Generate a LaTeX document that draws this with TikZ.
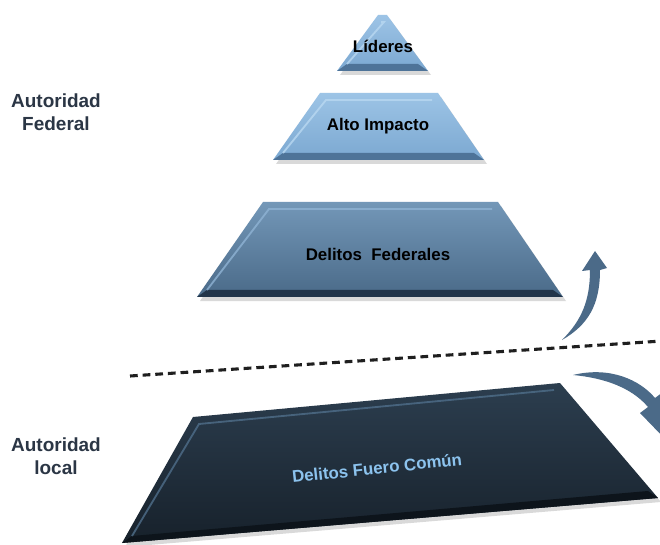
\documentclass[tikz,border=0pt]{standalone}
\usepackage{fontspec}
\setmainfont{Liberation Sans}
\usepackage{xcolor}
\usetikzlibrary{calc}
\definecolor{labelgray}{HTML}{2B3645}
\definecolor{arrowblue}{HTML}{4B6A88}
\definecolor{comuntext}{HTML}{8CC3EE}
\definecolor{litetop}{HTML}{9DC4E6}
\definecolor{litebot}{HTML}{7BA8D1}
\definecolor{liteedge}{HTML}{B9D8F1}
\definecolor{litedark}{HTML}{4E7398}
\definecolor{fedtop}{HTML}{7397B8}
\definecolor{fedbot}{HTML}{4A6A88}
\definecolor{fededge}{HTML}{8FB3D4}
\definecolor{feddark}{HTML}{22354A}
\definecolor{comtop}{HTML}{2C3E4F}
\definecolor{combot}{HTML}{17212B}
\definecolor{comedge}{HTML}{4F6E8A}
\definecolor{comdark}{HTML}{0D141B}
\tikzstyle{label} = [text=labelgray, font=\bfseries\fontsize{13.5}{16}\selectfont, align=center]
\tikzstyle{tiertext} = [font=\bfseries\fontsize{12}{14}\selectfont]
\tikzstyle{bendarrow} = [fill=arrowblue, draw=none]
\tikzstyle{divider} = [draw=black!88, line width=2.2pt, dash pattern=on 5.5pt off 3.5pt]
% tier: corners tl, tr, br, bl, top colour, bottom colour, light edge, dark edge
\newcommand{\tier}[8]{%
  \fill[black, opacity=.15] ($(#1)+(3,4)$) -- ($(#2)+(3,4)$) -- ($(#3)+(3,4)$) -- ($(#4)+(3,4)$) -- cycle;
  \shade[top color=#5, bottom color=#6] (#1) -- (#2) -- (#3) -- (#4) -- cycle;
  \fill[#8] (#4) -- (#3) -- ($(#3)+(-10,-7)$) -- ($(#4)+(10,-7)$) -- cycle;
  \draw[#7, line width=1.3pt, opacity=.8] ($(#4)+(10,-7)$) -- ($(#1)+(6,7)$) -- ($(#2)+(-6,7)$);
}

\begin{document}
\begin{tikzpicture}[x=0.025cm, y=-0.025cm]
        \clip (0,0) rectangle (660,545);
        \fill[white] (0,0) rectangle (660,545);

        \coordinate (l1) at (378,15);  \coordinate (l2) at (387,15);
        \coordinate (l3) at (428,71);  \coordinate (l4) at (337,71);
        \coordinate (a1) at (320,93);  \coordinate (a2) at (438,93);
        \coordinate (a3) at (484,160); \coordinate (a4) at (273,160);
        \coordinate (f1) at (263,202); \coordinate (f2) at (498,202);
        \coordinate (f3) at (563,297); \coordinate (f4) at (197,297);
        \coordinate (c1) at (193,417); \coordinate (c2) at (560,383);
        \coordinate (c3) at (658,498); \coordinate (c4) at (122,543);

        \tier{l1}{l2}{l3}{l4}{litetop}{litebot}{liteedge}{litedark}
        \tier{a1}{a2}{a3}{a4}{litetop}{litebot}{liteedge}{litedark}
        \tier{f1}{f2}{f3}{f4}{fedtop}{fedbot}{fededge}{feddark}
        \tier{c1}{c2}{c3}{c4}{comtop}{combot}{comedge}{comdark}

        \node[tiertext](lideres) at (383,46){Líderes};
        \node[tiertext](alto) at (378,126){Alto Impacto};
        \node[tiertext](federales) at (378,254){Delitos\ \ Federales};
        \node[tiertext, text=comuntext, rotate=6](comun) at (377,468){Delitos Fuero Común};

        \node[label](federal) at (56,112){Autoridad\\Federal};
        \node[label](local) at (56,456){Autoridad\\local};

        \coordinate (d1) at (130,376);
        \coordinate (d2) at (662,341);
        \draw[divider] (d1) -- (d2);

        \coordinate (upstart) at (562,340);
        \coordinate (uptip) at (595,251);
        \fill[bendarrow] (upstart) .. controls (582,320) and (590,300) .. (590,270)
            -- (582,271) -- (uptip) -- (607,268) -- (600,270)
            .. controls (600,305) and (588,325) .. (upstart) -- cycle;

        \coordinate (downstart) at (573,375);
        \coordinate (downtip) at (668,442);
        \fill[bendarrow] (downstart) .. controls (610,366) and (640,380) .. (655,398)
            -- (663,392) -- (downtip) -- (640,413) -- (648,407)
            .. controls (632,388) and (605,378) .. (downstart) -- cycle;
\end{tikzpicture}
\end{document}
